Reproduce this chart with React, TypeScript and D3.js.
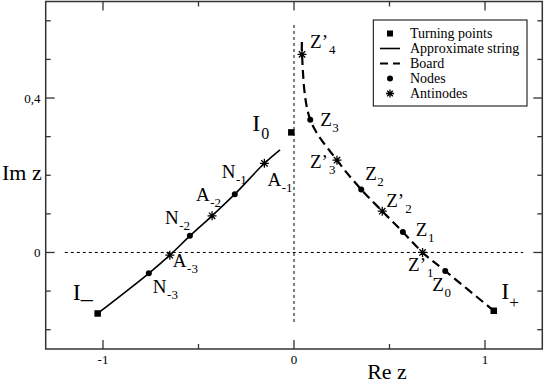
import React from "react";
import * as d3 from "d3";

// ---- data (in Re z / Im z units) ----
const stringX = [-1.028, -0.76, -0.65, -0.545, -0.429, -0.31, -0.155, -0.073];
const stringY = [-0.158, -0.054, -0.007, 0.043, 0.095, 0.151, 0.231, 0.266];

const boardX = [1.046, 0.792, 0.673, 0.57, 0.462, 0.352, 0.225, 0.085, 0.042, 0.042];
const boardY = [-0.151, -0.048, 0.0, 0.053, 0.107, 0.163, 0.239, 0.344, 0.513, 0.556];

const turningNames = ["I_", "I0", "I+"];
const turningX = [-1.028, -0.014, 1.046];
const turningY = [-0.158, 0.311, -0.151];

const nodeNames = ["N-3", "N-2", "N-1", "Z0", "Z1", "Z2", "Z3"];
const nodeX = [-0.76, -0.545, -0.31, 0.792, 0.57, 0.352, 0.085];
const nodeY = [-0.054, 0.043, 0.151, -0.048, 0.053, 0.163, 0.344];

const antiNames = ["A-3", "A-2", "A-1", "Z'1", "Z'2", "Z'3", "Z'4"];
const antiX = [-0.65, -0.429, -0.155, 0.673, 0.462, 0.225, 0.042];
const antiY = [-0.007, 0.095, 0.231, 0.0, 0.107, 0.239, 0.513];

const xMajorTicks = [-1, 0, 1];
const xMinorTicks = [-0.5, 0.5];
const xTickLabels = ["-1", "0", "1"];
const yMajorTicks = [0, 0.4];
const yMinorTicks = [-0.2, -0.1, 0.1, 0.2, 0.3, 0.5, 0.6];
const yTickLabels = ["0", "0,4"];

const legendLabels = ["Turning points", "Approximate string", "Board", "Nodes", "Antinodes"];

// label text: main, prime, subscript
const labelText: Record<string, [string, string, string]> = {
  "N-3": ["N", "", "-3"], "N-2": ["N", "", "-2"], "N-1": ["N", "", "-1"],
  "A-3": ["A", "", "-3"], "A-2": ["A", "", "-2"], "A-1": ["A", "", "-1"],
  "Z0": ["Z", "", "0"], "Z1": ["Z", "", "1"], "Z2": ["Z", "", "2"], "Z3": ["Z", "", "3"],
  "Z'1": ["Z", "\u2019", "1"], "Z'2": ["Z", "\u2019", "2"], "Z'3": ["Z", "\u2019", "3"], "Z'4": ["Z", "\u2019", "4"],
};
// pixel offsets of labels from their marker (layout, not data)
const labelOffset: Record<string, [number, number]> = {
  "N-1": [-13, -16], "A-1": [3, 23], "A-2": [-16, -15], "N-2": [-25, -12],
  "A-3": [3, 12], "N-3": [4, 20], "Z'4": [8, -6], "Z3": [10, 6.5], "Z'3": [-27, 8],
  "Z2": [4, -10], "Z'2": [4, -4.5], "Z1": [13, 3.5], "Z'1": [-14.5, 19], "Z0": [-13, 19.5],
  "I_": [-25, -13], "I0": [-39, -1.5], "I+": [7.5, -11.5],
};

const W = 545, H = 383;
const FS = { fontFamily: '"Liberation Serif"' };

function Star({ cx, cy, r = 4.5, sw = 1.3 }: { cx: number; cy: number; r?: number; sw?: number }) {
  const d = r * Math.SQRT1_2;
  return (
    <path
      d={`M${cx - r},${cy}L${cx + r},${cy}M${cx},${cy - r}L${cx},${cy + r}M${cx - d},${cy - d}L${cx + d},${cy + d}M${cx - d},${cy + d}L${cx + d},${cy - d}`}
      stroke="#000" strokeWidth={sw} fill="none"
    />
  );
}

export default function App() {
  const x = d3.scaleLinear().domain([-1.3, 1.3]).range([45.7, 542.3]);
  const y = d3.scaleLinear().domain([-0.25, 0.65]).range([349, 1.5]);
  const [x0, x1] = x.range();
  const [y0, y1] = y.range();

  const line = d3.line<[number, number]>().x(d => x(d[0])).y(d => y(d[1])).curve(d3.curveCatmullRom.alpha(0.5));
  const stringPath = line(stringX.map((v, i) => [v, stringY[i]]))!;
  const boardPath = line(boardX.map((v, i) => [v, boardY[i]]))!;

  const majorLen = 9, minorLen = 5;
  const frameColor = "#333";

  const ticks: JSX.Element[] = [];
  xMajorTicks.forEach((t, i) => {
    ticks.push(<line key={"xb" + i} x1={x(t)} x2={x(t)} y1={y0} y2={y0 - majorLen} stroke={frameColor} strokeWidth={1.3} />);
    ticks.push(<line key={"xt" + i} x1={x(t)} x2={x(t)} y1={y1} y2={y1 + majorLen} stroke={frameColor} strokeWidth={1.3} />);
  });
  xMinorTicks.forEach((t, i) => {
    ticks.push(<line key={"xbm" + i} x1={x(t)} x2={x(t)} y1={y0} y2={y0 - minorLen} stroke={frameColor} strokeWidth={1.3} />);
    ticks.push(<line key={"xtm" + i} x1={x(t)} x2={x(t)} y1={y1} y2={y1 + minorLen} stroke={frameColor} strokeWidth={1.3} />);
  });
  yMajorTicks.forEach((t, i) => {
    ticks.push(<line key={"yl" + i} x1={x0} x2={x0 + majorLen} y1={y(t)} y2={y(t)} stroke={frameColor} strokeWidth={1.3} />);
    ticks.push(<line key={"yr" + i} x1={x1} x2={x1 - majorLen} y1={y(t)} y2={y(t)} stroke={frameColor} strokeWidth={1.3} />);
  });
  yMinorTicks.forEach((t, i) => {
    ticks.push(<line key={"ylm" + i} x1={x0} x2={x0 + minorLen} y1={y(t)} y2={y(t)} stroke={frameColor} strokeWidth={1.3} />);
    ticks.push(<line key={"yrm" + i} x1={x1} x2={x1 - minorLen} y1={y(t)} y2={y(t)} stroke={frameColor} strokeWidth={1.3} />);
  });

  const renderLabel = (name: string, px: number, py: number) => {
    const off = labelOffset[name];
    const lx = px + off[0], ly = py + off[1];
    const t = labelText[name];
    return (
      <text key={"lab" + name} x={lx} y={ly} fontSize={19} fill="#000" style={FS}>
        <tspan>{t[0]}</tspan>
        {t[1] ? <tspan>{t[1]}</tspan> : null}
        <tspan fontSize={13} dy={6} dx={t[1] ? 1 : 0.5}>{t[2]}</tspan>
      </text>
    );
  };

  const sq = 6.5;
  const legX = 373.3, legY = 20, legW = 153.7, legH = 86;
  const rowY = (i: number) => 33.5 + i * 15;
  const symX = 390;

  return (
    <svg width={W} height={H} style={{ position: "absolute", left: 0, top: 0, background: "#fff", fontFamily: '"Liberation Serif"' }}>
      <rect x={0} y={0} width={W} height={H} fill="#fff" />
      {/* reference lines */}
      <line x1={x(-1.2)} x2={x(1.2)} y1={y(0)} y2={y(0)} stroke="#000" strokeWidth={1} strokeDasharray="3,3" />
      <line x1={x(0)} x2={x(0)} y1={y(-0.18)} y2={y(0.59)} stroke="#000" strokeWidth={1} strokeDasharray="3,3" />

      {/* curves */}
      <path d={stringPath} fill="none" stroke="#000" strokeWidth={1.6} />
      <path d={boardPath} fill="none" stroke="#000" strokeWidth={2.2} strokeDasharray="9,5" />

      {/* markers */}
      {turningX.map((v, i) => (
        <rect key={"tp" + i} x={x(v) - sq / 2} y={y(turningY[i]) - sq / 2} width={sq} height={sq} fill="#000" />
      ))}
      {nodeX.map((v, i) => (
        <circle key={"nd" + i} cx={x(v)} cy={y(nodeY[i])} r={3} fill="#000" />
      ))}
      {antiX.map((v, i) => (
        <Star key={"an" + i} cx={x(v)} cy={y(antiY[i])} />
      ))}

      {/* labels */}
      {nodeNames.map((n, i) => renderLabel(n, x(nodeX[i]), y(nodeY[i])))}
      {antiNames.map((n, i) => renderLabel(n, x(antiX[i]), y(antiY[i])))}
      {turningNames.map((n, i) => {
        const off = labelOffset[n];
        const lx = x(turningX[i]) + off[0], ly = y(turningY[i]) + off[1];
        if (n === "I_") {
          return (
            <text key={n} x={lx} y={ly} fontSize={24} fill="#000" style={FS}>
              <tspan>I</tspan>
              <tspan dy={6}>{"\u2013"}</tspan>
            </text>
          );
        }
        if (n === "I0") {
          return (
            <text key={n} x={lx} y={ly} fontSize={24} fill="#000" style={FS}>
              <tspan>I</tspan>
              <tspan fontSize={16} dy={8} dx={1}>0</tspan>
            </text>
          );
        }
        return (
          <text key={n} x={lx} y={ly} fontSize={24} fill="#000" style={FS}>
            <tspan>I</tspan>
            <tspan fontSize={17} dy={9} dx={0}>+</tspan>
          </text>
        );
      })}

      {/* frame */}
      <rect x={x0} y={y1} width={x1 - x0} height={y0 - y1} fill="none" stroke={frameColor} strokeWidth={1.5} />
      {ticks}

      {/* tick labels */}
      {xMajorTicks.map((t, i) => (
        <text key={"xl" + i} x={x(t)} y={363.5} textAnchor="middle" fontSize={13} fill="#000" style={FS}>{xTickLabels[i]}</text>
      ))}
      {yMajorTicks.map((t, i) => (
        <text key={"yl" + i} x={40.5} y={y(t) + 4.5} textAnchor="end" fontSize={13} fill="#000" style={FS}>{yTickLabels[i]}</text>
      ))}

      {/* axis titles */}
      <text x={387} y={379} textAnchor="middle" fontSize={22} fill="#000" style={FS}>Re z</text>
      <text x={2} y={180} fontSize={22} fill="#000" style={FS}>Im z</text>

      {/* legend */}
      <rect x={legX} y={legY} width={legW} height={legH} fill="#fff" stroke="#000" strokeWidth={1} />
      <rect x={symX - 3} y={rowY(0) - 3} width={6} height={6} fill="#000" />
      <line x1={380} x2={400} y1={rowY(1)} y2={rowY(1)} stroke="#000" strokeWidth={1.6} />
      <line x1={380} x2={400} y1={rowY(2)} y2={rowY(2)} stroke="#000" strokeWidth={2.2} strokeDasharray="8,5" />
      <circle cx={symX} cy={rowY(3)} r={3} fill="#000" />
      <Star cx={symX} cy={rowY(4)} r={4} />
      {legendLabels.map((l, i) => (
        <text key={"lg" + i} x={410} y={rowY(i) + 4.5} fontSize={14} fill="#000" style={FS}>{l}</text>
      ))}
    </svg>
  );
}
